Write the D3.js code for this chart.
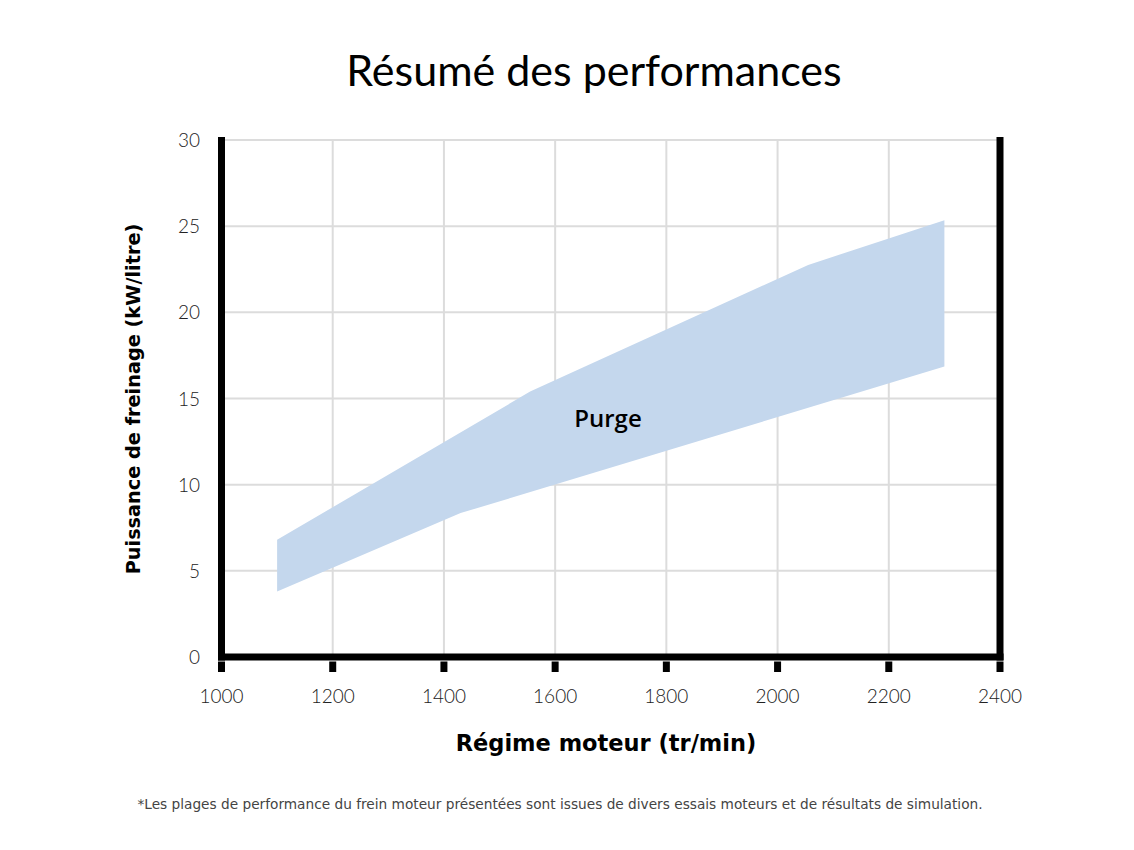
<!DOCTYPE html>
<html>
<head>
<meta charset="utf-8">
<script src="https://cdn.jsdelivr.net/npm/d3@7"></script>
<style>
  body { margin: 0; background: #fff; }
  .tick-label { font-family: Lato, "Open Sans", sans-serif; font-weight: 300; font-size: 19px; fill: #222; }
  .axis-title { font-family: "DejaVu Sans", Verdana, sans-serif; font-weight: bold; fill: #000; }
</style>
</head>
<body>
<div id="chart"></div>
<script>
// data
var upperRpm = [1100, 1555, 2055, 2300];
var upperKw = [6.8, 15.4, 22.75, 25.35];
var lowerRpm = [1100, 1430, 2300];
var lowerKw = [3.8, 8.35, 16.85];
var xTicks = [1000, 1200, 1400, 1600, 1800, 2000, 2200, 2400];
var yTicks = [0, 5, 10, 15, 20, 25, 30];

var width = 1134, height = 850;

var svg = d3.select("#chart").append("svg")
    .attr("width", width)
    .attr("height", height);

var x = d3.scaleLinear().domain([1000, 2400]).range([221.5, 1000]);
var y = d3.scaleLinear().domain([0, 30]).range([657, 140]);

// grid
svg.selectAll(".hgrid")
    .data(yTicks.filter(function(d) { return d > 0; }))
    .enter().append("line")
    .attr("x1", x(1000)).attr("x2", x(2400))
    .attr("y1", function(d) { return y(d); })
    .attr("y2", function(d) { return y(d); })
    .attr("stroke", "#dcdcdc").attr("stroke-width", 2);

svg.selectAll(".vgrid")
    .data(xTicks.filter(function(d) { return d > 1000 && d < 2400; }))
    .enter().append("line")
    .attr("x1", function(d) { return x(d); })
    .attr("x2", function(d) { return x(d); })
    .attr("y1", y(30)).attr("y2", y(0))
    .attr("stroke", "#dcdcdc").attr("stroke-width", 2);

// band polygon: upper edge then lower edge reversed
var band = [];
upperRpm.forEach(function(r, i) { band.push([r, upperKw[i]]); });
for (var i = lowerRpm.length - 1; i >= 0; i--) band.push([lowerRpm[i], lowerKw[i]]);

var line = d3.line()
    .x(function(d) { return x(d[0]); })
    .y(function(d) { return y(d[1]); });

svg.append("path")
    .attr("d", line(band) + "Z")
    .attr("fill", "#c4d7ed");

svg.append("text")
    .attr("x", x(1695))
    .attr("y", y(13.35))
    .attr("text-anchor", "middle")
    .style("font-family", "'Open Sans', sans-serif")
    .style("font-weight", 600)
    .style("font-size", "24px")
    .text("Purge");

// frame
var aw = 7;
svg.append("line")
    .attr("x1", x(1000)).attr("x2", x(1000))
    .attr("y1", 137).attr("y2", y(0) + aw / 2)
    .attr("stroke", "#000").attr("stroke-width", aw);
svg.append("line")
    .attr("x1", x(2400)).attr("x2", x(2400))
    .attr("y1", 137).attr("y2", y(0) + aw / 2)
    .attr("stroke", "#000").attr("stroke-width", aw);
svg.append("line")
    .attr("x1", x(1000) - aw / 2).attr("x2", x(2400) + aw / 2)
    .attr("y1", y(0)).attr("y2", y(0))
    .attr("stroke", "#000").attr("stroke-width", aw);

// x tick marks
svg.selectAll(".xtick")
    .data(xTicks)
    .enter().append("line")
    .attr("x1", function(d) { return x(d); })
    .attr("x2", function(d) { return x(d); })
    .attr("y1", y(0) + 4.5).attr("y2", y(0) + 15)
    .attr("stroke", "#000").attr("stroke-width", aw);

// tick labels
svg.selectAll(".xlab")
    .data(xTicks)
    .enter().append("text")
    .attr("class", "tick-label")
    .attr("x", function(d) { return x(d); })
    .attr("y", 703)
    .attr("text-anchor", "middle")
    .text(function(d) { return d; });

svg.selectAll(".ylab")
    .data(yTicks)
    .enter().append("text")
    .attr("class", "tick-label")
    .attr("x", 200)
    .attr("y", function(d) { return y(d) + 7; })
    .attr("text-anchor", "end")
    .text(function(d) { return d; });

// titles
svg.append("text")
    .attr("x", 594)
    .attr("y", 86)
    .attr("text-anchor", "middle")
    .style("font-family", "Lato, 'Open Sans', sans-serif")
    .style("font-size", "43px")
    .style("fill", "#000")
    .text("Résumé des performances");

svg.append("text")
    .attr("class", "axis-title")
    .attr("x", 606)
    .attr("y", 751)
    .attr("text-anchor", "middle")
    .style("font-size", "22.5px")
    .text("Régime moteur (tr/min)");

svg.append("text")
    .attr("class", "axis-title")
    .attr("transform", "translate(140,399) rotate(-90)")
    .attr("text-anchor", "middle")
    .style("font-size", "19.3px")
    .text("Puissance de freinage (kW/litre)");

svg.append("text")
    .attr("x", 560)
    .attr("y", 809)
    .attr("text-anchor", "middle")
    .style("font-family", "'DejaVu Sans', Verdana, sans-serif")
    .style("font-size", "13.7px")
    .style("fill", "#444")
    .text("*Les plages de performance du frein moteur présentées sont issues de divers essais moteurs et de résultats de simulation.");
</script>
</body>
</html>
